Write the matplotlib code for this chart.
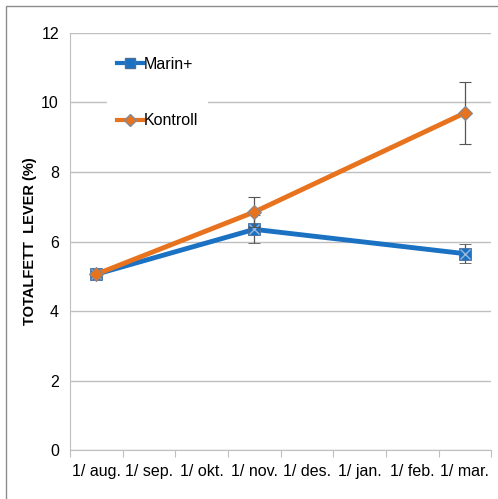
import numpy as np
import matplotlib.pyplot as plt
from matplotlib.lines import Line2D
from matplotlib.patches import Rectangle

# Data
months = ['1/ aug.', '1/ sep.', '1/ okt.', '1/ nov.', '1/ des.', '1/ jan.', '1/ feb.', '1/ mar.']
sample_idx = [0, 3, 7]
marin = [5.06, 6.35, 5.65]
marin_err = [0.0, 0.40, 0.28]
kontroll = [5.06, 6.85, 9.70]
kontroll_err = [0.0, 0.43, 0.90]

blue = '#1B72C2'
orange = '#E8731E'
plt.rcParams['font.family'] = ['Liberation Sans', 'DejaVu Sans']

fig = plt.figure(figsize=(4.98, 4.99), dpi=100)
ax = fig.add_axes([0.1406, 0.098, 0.846, 0.836])

# chart border (only the top and left edges are in view)
fig.patches.append(Rectangle((6 / 498, -0.1), 1.2, 1.1 - 6 / 499, transform=fig.transFigure,
                             fill=False, edgecolor='#8c8c8c', lw=1.0))

x = np.array(sample_idx) + 0.5

ax.errorbar(x, marin, yerr=marin_err, color=blue, lw=3.5, marker='s',
            ms=9, mfc=blue, mec='#4a6f9a', mew=0.6, ecolor='#555555',
            elinewidth=0.9, capsize=4, capthick=0.9, zorder=3)
ax.plot(x, marin, ls='none', marker='x', ms=7, mec='#9bb7d9', mew=1.0, zorder=4)
ax.errorbar(x, kontroll, yerr=kontroll_err, color=orange, lw=3.5, marker='D',
            ms=7, mfc=orange, mec='#7f8a99', mew=0.8, ecolor='#555555',
            elinewidth=0.9, capsize=4, capthick=0.9, zorder=5)

ax.set_xlim(0, len(months))
ax.set_ylim(0, 12)
ax.set_yticks(np.arange(0, 13, 2))
ax.set_xticks(np.arange(0, len(months) + 1))
ax.set_xticklabels([])
ax.set_xticks(np.arange(len(months)) + 0.5, minor=True)
ax.set_xticklabels(months, minor=True, fontsize=11.5)
ax.tick_params(axis='x', which='minor', length=0, pad=10)
ax.tick_params(axis='x', which='major', length=5, color='#bfbfbf')
ax.tick_params(axis='y', length=0, labelsize=11.5, pad=8)

ax.grid(axis='y', color='#bfbfbf', lw=1.0)
ax.set_axisbelow(True)
for s in ['top', 'right']:
    ax.spines[s].set_visible(False)
ax.spines['left'].set_color('#bfbfbf')
ax.spines['bottom'].set_color('#bfbfbf')

ax.set_ylabel('TOTALFETT  LEVER (%)', fontsize=10.5, fontweight='bold', labelpad=3)

handles = [
    Line2D([], [], color=blue, lw=3, marker='s', ms=7, mfc=blue, mec='#4a6f9a'),
    Line2D([], [], color=orange, lw=3, marker='D', ms=6, mfc=orange, mec='#7f8a99'),
]
leg = ax.legend(handles, ['Marin+', 'Kontroll'], loc='upper left',
                bbox_to_anchor=(0.07, 0.985), frameon=True, fontsize=11.5,
                labelspacing=2.6, handlelength=1.6, handletextpad=0.1,
                borderpad=0.6)
leg.get_frame().set_edgecolor('none')
leg.get_frame().set_facecolor('white')
leg.get_frame().set_alpha(1)

fig.savefig('out.png', dpi=100)
